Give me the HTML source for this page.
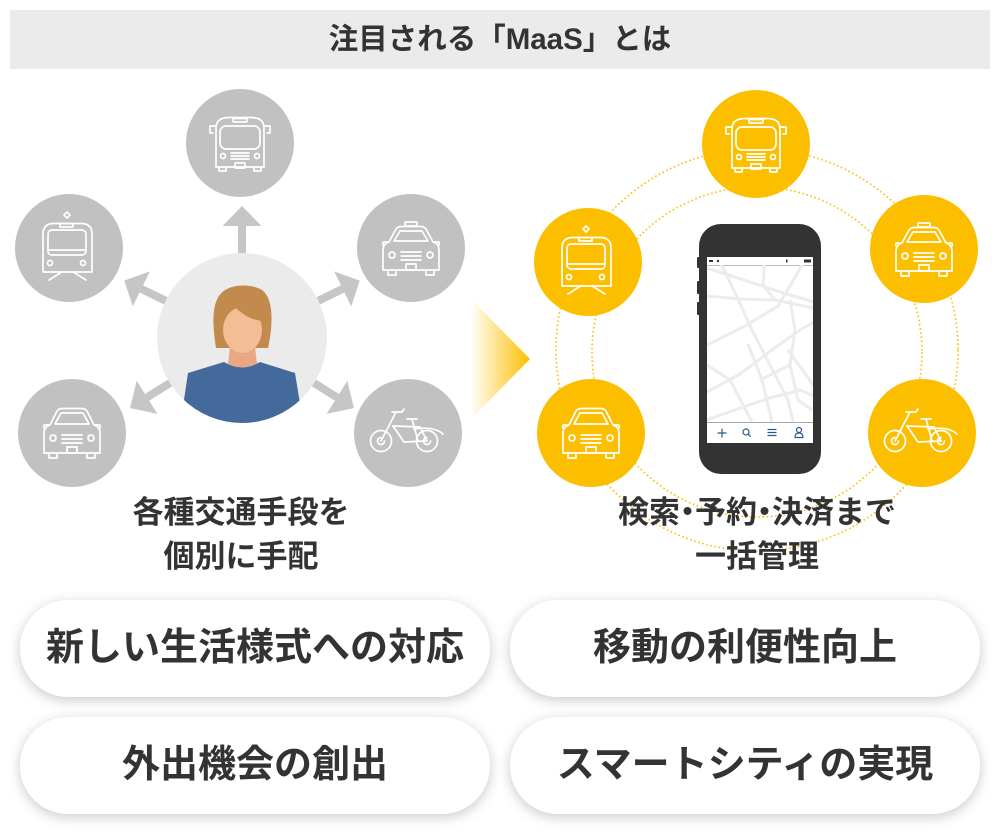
<!DOCTYPE html>
<html lang="ja">
<head>
<meta charset="utf-8">
<style>
  html,body{margin:0;padding:0;background:#fff;}
  body{width:1000px;height:834px;position:relative;overflow:hidden;
       font-family:"Liberation Sans","Noto Sans CJK JP",sans-serif;color:#333;}
  .hdr{position:absolute;left:10px;top:10px;width:980px;height:59px;background:#ebebeb;
       text-align:center;line-height:59px;font-size:29.5px;font-weight:700;color:#333;}
  .lbl{position:absolute;top:491px;width:400px;text-align:center;font-size:31px;line-height:44px;
       font-weight:700;color:#333;}
  .lbl .d{margin:0 -8px;}
  .pill{position:absolute;width:470px;height:97px;border-radius:48px;background:#fff;
        box-shadow:0 3px 13px rgba(0,0,0,0.21);text-align:center;line-height:97px;
        font-size:38px;font-weight:700;color:#333;white-space:nowrap;}
  svg{position:absolute;left:0;top:0;}
</style>
</head>
<body>
<svg width="1000" height="834" viewBox="0 0 1000 834" xmlns="http://www.w3.org/2000/svg">
  <defs>
    <linearGradient id="tri" x1="472" y1="0" x2="530" y2="0" gradientUnits="userSpaceOnUse">
      <stop offset="0" stop-color="#fcbf00" stop-opacity="0.03"/>
      <stop offset="1" stop-color="#fcbf00" stop-opacity="1"/>
    </linearGradient>
    <clipPath id="pc"><circle cx="242" cy="338" r="85"/></clipPath>
    <clipPath id="scr"><rect x="707" y="265" width="106" height="157"/></clipPath>

    <g id="bus" fill="none" stroke="#fff" stroke-width="1.7" stroke-linejoin="round" stroke-linecap="round">
      <path d="M-24,24 V-15 Q-24,-25 -12,-25.5 H12 Q24,-25 24,-15 V24 Z"/>
      <rect x="-7" y="-24.5" width="14" height="3.5" rx="1"/>
      <rect x="-20" y="-17" width="40" height="23" rx="6"/>
      <circle cx="-17" cy="13" r="2.5"/><circle cx="17" cy="13" r="2.5"/>
      <path d="M-9,10 H9 M-9,13 H9 M-9,16 H9"/>
      <rect x="-5" y="20" width="10" height="5"/>
      <path d="M-21,24 V28 H-14 V24 M14,24 V28 H21 V24"/>
      <path d="M-24,-17 H-30 V-10 H-27 M24,-17 H30 V-10 H27"/>
    </g>
    <g id="taxi" fill="none" stroke="#fff" stroke-width="1.7" stroke-linejoin="round" stroke-linecap="round">
      <rect x="-6" y="-26" width="12" height="4" rx="1"/>
      <path d="M-28,22 V2 Q-28,-4 -22,-6 L-15,-19 Q-13,-21.5 -10,-21.5 H10 Q13,-21.5 15,-19 L22,-6 Q28,-4 28,2 V22 Z"/>
      <path d="M-17,-7 L-11,-17 H11 L17,-7 Z"/>
      <path d="M-23,-6 H-27 Q-29,-6 -28,-3 M23,-6 H27 Q29,-6 28,-3"/>
      <circle cx="-19" cy="7" r="3"/><circle cx="19" cy="7" r="3"/>
      <path d="M-10,4 H10 M-10,8 H10 M-10,12 H10"/>
      <rect x="-5" y="16" width="10" height="6"/>
      <path d="M-23,22 V27 H-15 V22 M15,22 V27 H23 V22"/>
    </g>
    <g id="car" fill="none" stroke="#fff" stroke-width="1.7" stroke-linejoin="round" stroke-linecap="round">
      <path d="M-28,20 V0 Q-28,-6 -22,-8 L-15,-22 Q-13,-24.5 -10,-24.5 H10 Q13,-24.5 15,-22 L22,-8 Q28,-6 28,0 V20 Z"/>
      <path d="M-17,-9 L-11,-20 H11 L17,-9 Z"/>
      <path d="M-23,-8 H-27 Q-29,-8 -28,-5 M23,-8 H27 Q29,-8 28,-5"/>
      <circle cx="-19" cy="5" r="3"/><circle cx="19" cy="5" r="3"/>
      <path d="M-10,2 H10 M-10,6 H10 M-10,10 H10"/>
      <rect x="-5" y="14" width="10" height="6"/>
      <path d="M-23,20 V25 H-15 V20 M15,20 V25 H23 V20"/>
    </g>
    <g id="train" fill="none" stroke="#fff" stroke-width="1.7" stroke-linejoin="round" stroke-linecap="round">
      <path d="M-2,-36 L1,-33 L-2,-30 L-5,-33 Z"/>
      <rect x="-9" y="-24.5" width="13" height="3.5"/>
      <path d="M-26,24 V-14 Q-26,-24 -16,-24.5 H13 Q23,-24 23,-14 V24 Z"/>
      <rect x="-21" y="-18" width="38" height="25" rx="4"/>
      <path d="M-21,2 H17"/>
      <circle cx="-19" cy="15" r="2.5"/><circle cx="14" cy="15" r="2.5"/>
      <path d="M-20,32 L-8,24.5 M5,24.5 L17,32"/>
    </g>
    <g id="bike" fill="none" stroke="#fff" stroke-width="1.7" stroke-linejoin="round" stroke-linecap="round">
      <circle cx="-27" cy="8" r="10.5"/>
      <path d="M-27,4.5 A3.5,3.5 0 1 0 -23.5,8"/>
      <circle cx="19" cy="8" r="10.5"/>
      <path d="M19,4.5 A3.5,3.5 0 1 0 22.5,8"/>
      <path d="M-12,-21 L-27,8"/>
      <path d="M-16,-21 H-6 L-4,-24"/>
      <path d="M-15,-7 L12,-6"/>
      <path d="M-15,-7 L-4,9 L19,8"/>
      <path d="M4,-14 L10,8 M12,-6 L19,8"/>
      <path d="M-1,-14 H9"/>
      <path d="M6,-4 Q26,-7 35,1"/>
    </g>
  </defs>

  <!-- LEFT: arrows -->
  <g fill="#c6c6c6">
    <g transform="translate(242,338)">
      <g><rect x="-4" y="-113" width="8" height="30"/><polygon points="-19.5,-112 0,-132 19.5,-112"/></g>
      <g transform="rotate(64)"><rect x="-4" y="-113" width="8" height="30"/><polygon points="-19.5,-112 0,-131 19.5,-112"/></g>
      <g transform="rotate(-64)"><rect x="-4" y="-113" width="8" height="30"/><polygon points="-19.5,-112 0,-131 19.5,-112"/></g>
      <g transform="rotate(122)"><rect x="-4" y="-113" width="8" height="30"/><polygon points="-19.5,-112 0,-132 19.5,-112"/></g>
      <g transform="rotate(-122)"><rect x="-4" y="-113" width="8" height="30"/><polygon points="-19.5,-112 0,-132 19.5,-112"/></g>
    </g>
  </g>

  <!-- LEFT: gray circles -->
  <g fill="#c1c1c1">
    <circle cx="240" cy="143" r="54"/>
    <circle cx="69" cy="248" r="54"/>
    <circle cx="411" cy="248" r="54"/>
    <circle cx="72" cy="433" r="54"/>
    <circle cx="408" cy="433" r="54"/>
  </g>
  <use href="#bus" x="240" y="143"/>
  <use href="#train" x="69" y="248"/>
  <use href="#taxi" x="411" y="248"/>
  <use href="#car" x="72" y="433"/>
  <use href="#bike" x="408" y="433"/>

  <!-- person -->
  <circle cx="242" cy="338" r="85" fill="#ebebeb"/>
  <g clip-path="url(#pc)">
    <path d="M231,338 L254,338 L257,364 Q242,376 228,364 Z" fill="#e9a884"/>
    <path d="M188,373 L224,362 Q242,373 260,362 L295,373 L306,440 L178,440 Z" fill="#436a9b"/>
    <path d="M216,348 C212,322 211,299 225,290 C235,284 252,284 262,290 C274,299 273,325 268,348 Z" fill="#c28a4c"/>
    <ellipse cx="242.5" cy="330" rx="19.5" ry="23" fill="#f3bd95"/>
    <path d="M222,320 C224,309 231,304 237,309 C246,317 255,321 265,321 L266,298 L221,298 Z" fill="#c28a4c"/>
  </g>

  <!-- transition triangle -->
  <polygon points="472,300 530,359 472,418" fill="url(#tri)"/>

  <!-- RIGHT: dotted rings -->
  <g fill="none" stroke="#fcbf00" stroke-width="1.6" stroke-dasharray="1.6 2.6">
    <circle cx="757" cy="350" r="201"/>
    <circle cx="757" cy="352" r="165"/>
  </g>

  <!-- RIGHT: yellow circles -->
  <g fill="#fcbf00">
    <circle cx="756" cy="144" r="54"/>
    <circle cx="588" cy="262" r="54"/>
    <circle cx="924" cy="249" r="54"/>
    <circle cx="591" cy="433" r="54"/>
    <circle cx="922" cy="433" r="54"/>
  </g>
  <use href="#bus" x="756" y="144"/>
  <use href="#train" x="588" y="262"/>
  <use href="#taxi" x="924" y="249"/>
  <use href="#car" x="591" y="433"/>
  <use href="#bike" x="922" y="433"/>

  <!-- phone -->
  <rect x="697" y="257" width="4" height="11" rx="1" fill="#333"/>
  <rect x="697" y="281" width="4" height="13" rx="1" fill="#333"/>
  <rect x="697" y="302" width="4" height="13" rx="1" fill="#333"/>
  <rect x="699" y="224" width="122" height="250" rx="22" fill="#333"/>
  <rect x="707" y="257" width="106" height="186" fill="#fff"/>
  <line x1="707" y1="265.5" x2="813" y2="265.5" stroke="#bbb" stroke-width="1"/>
  <rect x="709" y="260" width="4" height="2" fill="#333"/>
  <circle cx="718" cy="261" r="1.2" fill="#333"/>
  <rect x="786" y="259.5" width="1.5" height="3" fill="#333"/>
  <rect x="804" y="259.5" width="7" height="3" fill="#333"/>
  <g clip-path="url(#scr)" fill="none" stroke="#ececec" stroke-width="3" stroke-linejoin="round">
    <polyline points="707,268 750,282 790,295 814,302"/>
    <polyline points="707,296 740,299 775,300 814,308"/>
    <polyline points="718,257 736,295 752,330 770,365 788,400 798,443"/>
    <polyline points="707,345 745,326 778,306 798,272 806,257"/>
    <polyline points="707,392 740,374 772,350 800,330 814,322"/>
    <polyline points="707,420 740,408 770,398 800,390 814,396"/>
    <polyline points="765,257 763,285 776,301"/>
    <polyline points="748,344 762,380 772,422"/>
    <polyline points="788,350 814,386"/>
    <polyline points="707,365 730,380 752,422"/>
    <polyline points="790,300 795,330 790,365 798,400 812,410"/>
    <polyline points="760,380 790,365"/>
  </g>
  <line x1="707" y1="422.5" x2="813" y2="422.5" stroke="#aaa" stroke-width="1"/>
  <g fill="none" stroke="#2b5b8c" stroke-width="1.2" stroke-linecap="round">
    <path d="M718,433 H726 M722,429 V437"/>
    <circle cx="746" cy="432" r="3"/><path d="M748.2,434.2 L750.5,436.5"/>
    <path d="M768,429.5 H776 M768,432.5 H776 M768,435.5 H776"/>
    <circle cx="799" cy="430" r="2.5"/><path d="M795,437.5 Q795,433 799,433 Q803,433 803,437.5 Z"/>
  </g>
</svg>

<div class="hdr">注目される「MaaS」とは</div>

<div class="lbl" style="left:41px;">各種交通手段を<br>個別に手配</div>
<div class="lbl" style="left:557px;">検索<span class="d">・</span>予約<span class="d">・</span>決済まで<br>一括管理</div>

<div class="pill" style="left:20px;top:600px;">新しい生活様式への対応</div>
<div class="pill" style="left:510px;top:600px;">移動の利便性向上</div>
<div class="pill" style="left:20px;top:717px;">外出機会の創出</div>
<div class="pill" style="left:510px;top:717px;">スマートシティの実現</div>
</body>
</html>
